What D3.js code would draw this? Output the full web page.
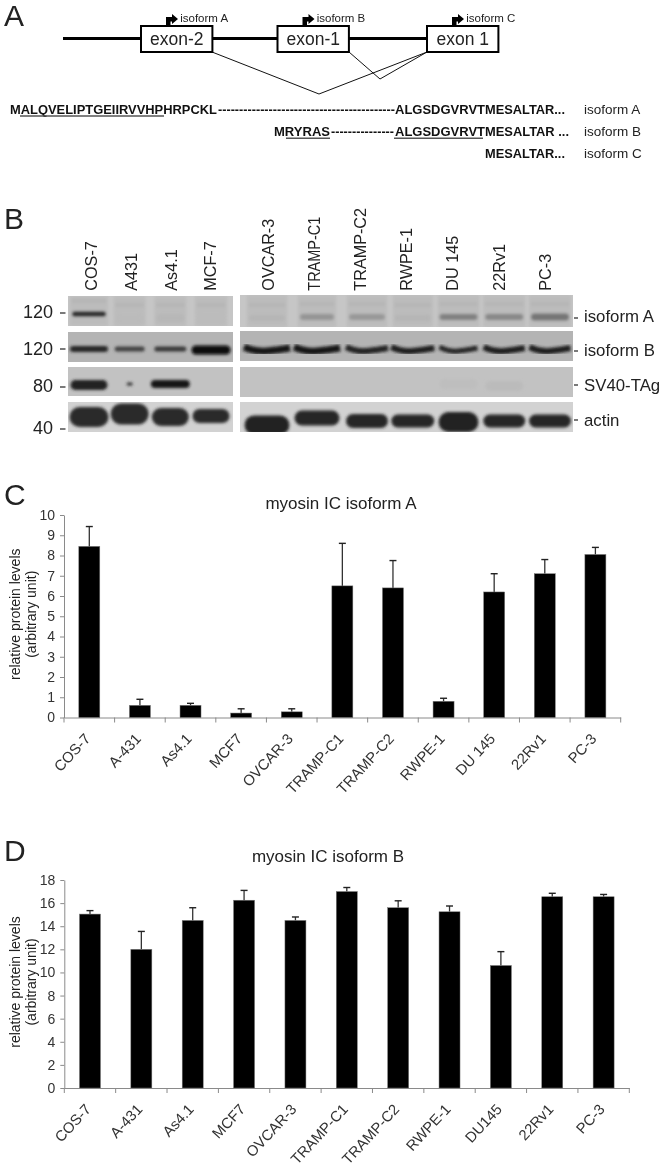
<!DOCTYPE html>
<html><head><meta charset="utf-8">
<script src="https://cdn.jsdelivr.net/npm/d3@7"></script>
<style>html,body{margin:0;padding:0;background:#fff}svg{display:block;filter:blur(.35px)}text{font-family:"Liberation Sans",Arial,sans-serif}</style>
</head><body><svg id="c" width="666" height="1166"></svg>
<script>
// ---- data ----
const categoriesC = ["COS-7","A-431","As4.1","MCF7","OVCAR-3","TRAMP-C1","TRAMP-C2","RWPE-1","DU 145","22Rv1","PC-3"];
const valuesC = [8.45,0.6,0.6,0.22,0.28,6.5,6.4,0.8,6.2,7.1,8.05];
const errTopC = [9.43,0.9,0.7,0.43,0.43,8.6,7.75,0.95,7.1,7.8,8.4];
const ticksC = [0,1,2,3,4,5,6,7,8,9,10];
const categoriesD = ["COS-7","A-431","As4.1","MCF7","OVCAR-3","TRAMP-C1","TRAMP-C2","RWPE-1","DU145","22Rv1","PC-3"];
const valuesD = [15.05,12,14.5,16.25,14.5,17,15.6,15.25,10.6,16.55,16.55];
const errTopD = [15.35,13.55,15.6,17.1,14.8,17.35,16.2,15.75,11.8,16.85,16.75];
const ticksD = [0,2,4,6,8,10,12,14,16,18];
const lanesLeft = ["COS-7","A431","As4.1","MCF-7"];
const lanesRight = ["OVCAR-3","TRAMP-C1","TRAMP-C2","RWPE-1","DU 145","22Rv1","PC-3"];
const blotNames = ["isoform A","isoform B","SV40-TAg","actin"];
const markers = ["120","120","80","40"];
const isoALeft = [.85,.04,.06,.03], isoARight = [.07,.25,.23,.07,.36,.32,.42];
const isoBLeft = [.85,.7,.75,1], isoBRight = [.95,.95,.88,.9,.88,.9,.9];
const svLeft = [.88,.8,.92,0], svRight = [0,0,0,0,.02,.04,0];
const actinLeft = [.82,.82,.82,.82], actinRight = [.88,.85,.85,.85,.88,.85,.85];
const exons = ["exon-2","exon-1","exon 1"];
const isoforms = ["isoform A","isoform B","isoform C"];

// ---- layout (pixels, not data) ----
const laneCentreL = d3.scaleLinear().domain([0,3]).range([89,211]);
const laneCentreR = d3.scaleLinear().domain([0,2,6]).range([267,367,550]);
const labelCentreL = d3.scaleLinear().domain([0,3]).range([91.5,210.5]);
const labelCentreR = d3.scaleLinear().domain([0,6]).range([268,545]);
const rowBox = {"isoform A":[[296,326],[295,327]],"isoform B":[[332,362],[331,361]],"SV40-TAg":[[367,396],[367,397]],"actin":[[402,432],[402,432]]};
const bandCy = {"isoform A":[[314,318,318,318],[318,317,317,318,317,317,317]],
  "isoform B":[[349,349,349,350],[350,350,350,350,350,350,350]],
  "SV40-TAg":[[385,384,384,384],[384,384,384,384,384,386,384]],
  "actin":[[417,414,417,416],[425,418,421,421,422,421,421]]};
const bandHt = {"isoform A":[[5,8,8,8],[6,6,6,6,6,6,7]],
  "isoform B":[[6,5,5,9],[7,7,6,6,5,6,6]],
  "SV40-TAg":[[10,3,8,0],[0,0,0,0,10,10,0]],
  "actin":[[20,21,18,14],[19,15,14,13,20,13,13]]};
const bandWd = {"isoform A":[[34,28,28,28],[36,34,36,36,38,38,38]],
  "isoform B":[[38,30,32,39],[46,46,42,43,38,41,41]],
  "SV40-TAg":[[37,6,39,0],[0,0,0,0,38,38,0]],
  "actin":[[39,38,37,37],[45,45,42,43,40,42,42]]};
const rowBg = {"isoform A":"#c6c6c6","isoform B":"#b4b4b4","SV40-TAg":"#c2c2c2","actin":"#d2d2d2"};
const rowVals = {"isoform A":[isoALeft,isoARight],"isoform B":[isoBLeft,isoBRight],"SV40-TAg":[svLeft,svRight],"actin":[actinLeft,actinRight]};

const svg = d3.select("#c");
const defs = svg.append("defs");
defs.append("filter").attr("id","b1").attr("x","-20%").attr("y","-50%").attr("width","140%").attr("height","200%").append("feGaussianBlur").attr("stdDeviation",1.4);
const ink = "#222";
function letter(t,y){svg.append("text").attr("x",4).attr("y",y).attr("font-size",30).attr("fill",ink).text(t);}
letter("A",26);letter("B",229);letter("C",505);letter("D",861);

// ---- panel A ----
const a = svg.append("g");
const exonPos = {"exon-2":176.7,"exon-1":313.2,"exon 1":462.7};
a.append("line").attr("x1",63).attr("x2",427).attr("y1",38.5).attr("y2",38.5).attr("stroke","#000").attr("stroke-width",3);
const spl = d3.line();
a.append("path").attr("d",spl([[212,52],[319,94],[427,52]])).attr("fill","none").attr("stroke","#111").attr("stroke-width",1);
a.append("path").attr("d",spl([[349,52],[380,79],[427,52]])).attr("fill","none").attr("stroke","#111").attr("stroke-width",1);
exons.forEach((e,i)=>{
  const cx = exonPos[e];
  a.append("rect").attr("x",cx-35.7).attr("y",26).attr("width",71.4).attr("height",26).attr("fill","#fff").attr("stroke","#000").attr("stroke-width",2);
  a.append("text").attr("x",cx).attr("y",45).attr("text-anchor","middle").attr("font-size",17.5).attr("fill",ink).text(e);
  const ax = cx-10.7;
  a.append("path").attr("d",`M${ax},26 V17 H${ax+6} V14 L${ax+12},19 L${ax+6},24 V21.5 H${ax+4.5} V26 Z`).attr("fill","#000");
  a.append("text").attr("x",cx+3.5).attr("y",21.5).attr("font-size",11.5).attr("fill",ink).text(isoforms[i]);
});
const seqs = [
 [[10,"MALQVELIPTGEIIRVVHPHRPCKL",207],[218,"------------------------------------------",177],[395,"ALGSDGVRVT",90],[485,"MESALTAR...",80]],
 [[274,"MRYRAS",56],[331,"---------------",63],[395,"ALGSDGVRVT",90],[485,"MESALTAR ...",84]],
 [[485,"MESALTAR...",80]]
];
seqs.forEach((r,i)=>{
  const y = 113.5+i*22.3;
  r.forEach(p=>a.append("text").attr("x",p[0]).attr("y",y).attr("font-size",12.6).attr("font-weight","bold").attr("fill","#111").attr("textLength",p[2]).attr("lengthAdjust","spacingAndGlyphs").text(p[1]));
  a.append("text").attr("x",584).attr("y",y).attr("font-size",13.5).attr("fill",ink).text(isoforms[i]);
});
[[20,164,116],[286,330,138.3],[394,483,138.3]].forEach(u=>a.append("line").attr("x1",u[0]).attr("x2",u[1]).attr("y1",u[2]).attr("y2",u[2]).attr("stroke","#555").attr("stroke-width",1.4));

// ---- panel B ----
const grey = d3.scaleLinear().domain([0,1]).range(["#c2c2c2","#0a0a0a"]);
const blot = svg.append("g");
const sides = [{lanes:lanesLeft,x0:68,x1:233,c:laneCentreL},{lanes:lanesRight,x0:240,x1:573,c:laneCentreR}];
blotNames.forEach((n,ri)=>{
  sides.forEach((s,si)=>{
    const [t,b] = rowBox[n][si];
    const cid = `cl${ri}${si}`;
    defs.append("clipPath").attr("id",cid).append("rect").attr("x",s.x0).attr("y",t).attr("width",s.x1-s.x0).attr("height",b-t);
    const g = blot.append("g").attr("clip-path",`url(#${cid})`);
    g.append("rect").attr("x",s.x0).attr("y",t).attr("width",s.x1-s.x0).attr("height",b-t).attr("fill",rowBg[n]);
    const gb = g.append("g").attr("filter","url(#b1)");
    s.lanes.forEach((l,i)=>{
      const v = rowVals[n][si][i];
      const cx = s.c(i), cy = bandCy[n][si][i], h = bandHt[n][si][i], w = bandWd[n][si][i];
      if(n==="isoform A"){
        gb.append("rect").attr("x",cx-w/2-2).attr("y",t).attr("width",w+4).attr("height",b-t).attr("fill","#a6a6a6").attr("opacity",.3);
        gb.append("rect").attr("x",cx-w/2).attr("y",cy-15).attr("width",w).attr("height",4).attr("fill","#a2a2a2").attr("opacity",.28);
      }
      if(h<=0) return;
      if(n==="isoform B"&&si===1){
        gb.append("path").attr("d",`M${cx-w/2},${cy-3} Q${cx-w/4},${cy+2} ${cx},${cy+1} T${cx+w/2},${cy-2}`)
          .attr("fill","none").attr("stroke",grey(v)).attr("stroke-width",h);
      } else {
        gb.append("rect").attr("x",cx-w/2).attr("y",cy-h/2).attr("width",w).attr("height",h).attr("rx",Math.min(h/2,w/2)).attr("fill",grey(v));
      }
    });
  });
  svg.append("text").attr("x",53).attr("y",[318,355,392,434][ri]).attr("text-anchor","end").attr("font-size",18).attr("fill",ink).text(markers[ri]);
  const dl = [313,349,387,429][ri];
  svg.append("line").attr("x1",60).attr("x2",65.5).attr("y1",dl).attr("y2",dl).attr("stroke",ink).attr("stroke-width",1.2);
  const dr = [318,351,385,420][ri];
  svg.append("line").attr("x1",574).attr("x2",578).attr("y1",dr).attr("y2",dr).attr("stroke",ink).attr("stroke-width",1.2);
  svg.append("text").attr("x",584).attr("y",[322,356,391,426][ri]).attr("font-size",16.8).attr("fill",ink).text(n);
});
[[lanesLeft,labelCentreL],[lanesRight,labelCentreR]].forEach(([ls,sc])=>ls.forEach((l,i)=>{
  const t = svg.append("text").attr("transform",`translate(${sc(i)+5.8},290.7) rotate(-90)`).attr("font-size",16.2).attr("fill",ink).text(l);
  if(l==="TRAMP-C1") t.attr("textLength",74).attr("lengthAdjust","spacingAndGlyphs");
}));

// ---- panels C, D ----
function barPanel(cats,vals,errs,ticks,yMax,x0,x1,y0,y1,title,titleX,titleY){
  const g = svg.append("g");
  const x = d3.scaleBand().domain(cats).range([x0,x1]);
  const y = d3.scaleLinear().domain([0,yMax]).range([y0,y1]);
  const barW = 21;
  const xa = g.append("g").attr("transform",`translate(0,${y0})`).call(d3.axisBottom(x).tickValues([]).tickSize(0).tickSizeOuter(0));
  xa.select(".domain").attr("stroke","#8a8a8a").attr("stroke-width",1);
  g.selectAll(".xt").data(d3.range(cats.length+1)).join("line").attr("class","xt")
    .attr("x1",i=>x0+i*x.step()).attr("x2",i=>x0+i*x.step()).attr("y1",y0).attr("y2",y0+5).attr("stroke","#8a8a8a");
  const ya = g.append("g").attr("transform",`translate(${x0},0)`).call(d3.axisLeft(y).tickValues(ticks).tickSize(4).tickSizeOuter(0));
  ya.selectAll("line,path").attr("stroke","#8a8a8a");
  ya.selectAll("text").attr("font-size",14).attr("fill","#333").attr("font-family","Liberation Sans").attr("dx",-2);
  g.selectAll(".stem").data(cats).join("line").attr("class","stem")
    .attr("x1",d=>x(d)+x.bandwidth()/2).attr("x2",d=>x(d)+x.bandwidth()/2)
    .attr("y1",(d,i)=>y(vals[i])).attr("y2",(d,i)=>y(errs[i])).attr("stroke","#333").attr("stroke-width",1.3);
  g.selectAll(".cap").data(cats).join("line").attr("class","cap")
    .attr("x1",d=>x(d)+x.bandwidth()/2-3.5).attr("x2",d=>x(d)+x.bandwidth()/2+3.5)
    .attr("y1",(d,i)=>y(errs[i])).attr("y2",(d,i)=>y(errs[i])).attr("stroke","#222").attr("stroke-width",1.4);
  g.selectAll(".bar").data(cats).join("rect").attr("class","bar")
    .attr("x",d=>x(d)+x.bandwidth()/2-barW/2).attr("width",barW)
    .attr("y",(d,i)=>y(vals[i])).attr("height",(d,i)=>y0-y(vals[i])).attr("fill","#000").attr("stroke","#777").attr("stroke-width",.5);
  g.selectAll(".lab").data(cats).join("text").attr("class","lab")
    .attr("transform",d=>`translate(${x(d)+x.bandwidth()/2+2},${y0+22}) rotate(-47)`)
    .attr("text-anchor","end").attr("font-size",14.8).attr("fill","#333").text(d=>d);
  g.append("text").attr("x",titleX).attr("y",titleY).attr("text-anchor","middle").attr("font-size",17).attr("fill",ink).text(title);
  const yc = (y0+y1)/2-2;
  g.append("text").attr("transform",`translate(20,${yc}) rotate(-90)`).attr("text-anchor","middle").attr("font-size",14).attr("fill",ink).text("relative protein levels");
  g.append("text").attr("transform",`translate(35.5,${yc}) rotate(-90)`).attr("text-anchor","middle").attr("font-size",14).attr("fill",ink).text("(arbitrary unit)");
}
barPanel(categoriesC,valuesC,errTopC,ticksC,10,64,620.7,717.5,515,"myosin IC isoform A",341,509);
barPanel(categoriesD,valuesD,errTopD,ticksD,18,64.3,629.3,1088,880,"myosin IC isoform B",328,862);
</script></body></html>
